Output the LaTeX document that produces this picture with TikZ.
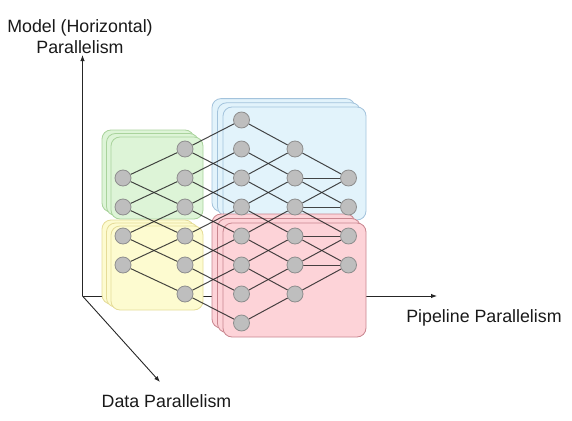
\documentclass[tikz,border=0pt]{standalone}
\usepackage{fontspec}
\setmainfont{Liberation Sans}
\usetikzlibrary{arrows.meta}
\definecolor{gfill}{HTML}{DDF4D7}\definecolor{gline}{HTML}{A9D39C}
\definecolor{yfill}{HTML}{FDFBD0}\definecolor{yline}{HTML}{E5DC98}
\definecolor{bfill}{HTML}{E2F3FB}\definecolor{bline}{HTML}{A3C3DC}
\definecolor{pfill}{HTML}{FDD3D8}\definecolor{pline}{HTML}{C9868F}
\definecolor{nfill}{HTML}{BEBEBE}\definecolor{nline}{HTML}{8E8E8E}
\definecolor{ecol}{HTML}{262626}
\pgfdeclarelayer{bg}\pgfdeclarelayer{edges}
\pgfsetlayers{bg,edges,main}
\tikzset{
  neuron/.style={circle,fill=nfill,draw=nline,line width=0.8pt,minimum size=16pt,inner sep=0pt},
  edge/.style={draw=ecol,draw opacity=0.85,line width=1pt},
  axis/.style={draw=ecol,line width=0.9pt,-{Latex[length=6pt,width=4.5pt]}},
  grp/.style={rounded corners=9pt,line width=0.8pt},
  greenbox/.style={grp,fill=gfill,draw=gline},
  yellowbox/.style={grp,fill=yfill,draw=yline},
  bluebox/.style={grp,fill=bfill,draw=bline},
  pinkbox/.style={grp,fill=pfill,draw=pline},
  lbl/.style={inner sep=0pt,font=\fontsize{17.8}{21}\selectfont,text=black!90}
}
\begin{document}
\begin{tikzpicture}[x=1pt,y=-1pt]
\useasboundingbox (0,0) rectangle (572,420);
% neurons
\foreach \k in {2,...,5} \node[neuron] (a\k) at (123,120+29*\k) {};
\foreach \k in {1,...,6} \node[neuron] (b\k) at (185,120+29*\k) {};
\foreach \k in {0,...,7} \node[neuron] (c\k) at (241.5,120+29*\k) {};
\foreach \k in {1,...,6} \node[neuron] (d\k) at (295,120+29*\k) {};
\foreach \k in {2,...,5} \node[neuron] (e\k) at (348.5,120+29*\k) {};
% axes and groups
\begin{pgfonlayer}{bg}
\coordinate (O) at (82.5,296);
\coordinate (Ytip) at (82.5,55);
\coordinate (Xtip) at (437,296);
\coordinate (Ztip) at (160,382);
\draw[axis] (O) -- (Ytip);
\draw[axis] (O) -- (Xtip);
\draw[axis] (O) -- (Ztip);
\foreach \i in {2,1,0}{\draw[greenbox,shift={(-4.5*\i,-3.5*\i)}] (111,137) rectangle (203,219);}
\foreach \i in {2,1,0}{\draw[yellowbox,shift={(-4.5*\i,-3*\i)}] (111,226) rectangle (203,310);}
\foreach \i in {2,1,0}{\draw[bluebox,shift={(-5.5*\i,-4.2*\i)}] (223,107) rectangle (366,220);}
\foreach \i in {2,1,0}{\draw[pinkbox,shift={(-5.5*\i,-4.5*\i)}] (223,223) rectangle (366,337);}
\end{pgfonlayer}
% edges
\begin{pgfonlayer}{edges}
\foreach \k in {2,...,5}{
  \pgfmathtruncatemacro\u{\k-1}\pgfmathtruncatemacro\v{\k+1}
  \draw[edge] (a\k) -- (b\u); \draw[edge] (a\k) -- (b\v);}
\foreach \k in {1,...,6}{
  \pgfmathtruncatemacro\u{\k-1}\pgfmathtruncatemacro\v{\k+1}
  \draw[edge] (b\k) -- (c\u); \draw[edge] (b\k) -- (c\v);}
\foreach \k in {0,...,5}{
  \pgfmathtruncatemacro\v{\k+1}
  \draw[edge] (c\k) -- (d\v);}
\foreach \k in {2,...,7}{
  \pgfmathtruncatemacro\u{\k-1}
  \draw[edge] (c\k) -- (d\u);}
\foreach \s/\t in {d1/e2,d2/e2,d2/e3,d3/e2,d3/e3,d3/e4,d4/e4,d4/e5,d5/e4,d5/e5,d6/e5}
  \draw[edge] (\s) -- (\t);
\end{pgfonlayer}
% labels
\node[lbl,align=center] (lblModel) at (80,37) {Model (Horizontal)\\Parallelism};
\node[lbl] (lblPipe) at (484,318) {Pipeline Parallelism};
\node[lbl] (lblData) at (166.5,401) {Data Parallelism};
\end{tikzpicture}
\end{document}
